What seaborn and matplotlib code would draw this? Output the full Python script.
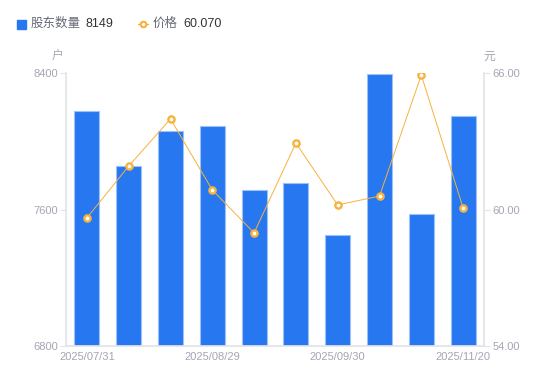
import matplotlib
matplotlib.use("Agg")
import matplotlib.pyplot as plt
import seaborn as sns
import pandas as pd
import numpy as np
from matplotlib.lines import Line2D

dates = ["2025/07/31", "2025/08/10", "2025/08/20", "2025/08/29", "2025/09/10",
         "2025/09/19", "2025/09/30", "2025/10/20", "2025/10/31", "2025/11/20"]
holders = [8177, 7855, 8060, 8089, 7714, 7755, 7451, 8394, 7574, 8149]
prices = [59.63, 61.91, 63.98, 60.86, 58.97, 62.92, 60.20, 60.59, 65.91, 60.07]
shown_labels = ["2025/07/31", "2025/08/29", "2025/09/30", "2025/11/20"]
left_ticks = [6800, 7600, 8400]
right_ticks = [54.0, 60.0, 66.0]

BLUE = "#2777f1"
ORANGE = "#f7b23b"
GREY = "#a3a6b4"
AXC = "#e3e4e8"

sns.set_theme(style="white")
plt.rcParams["font.family"] = ["Liberation Sans", "Noto Sans CJK SC", "DejaVu Sans"]

df = pd.DataFrame({"date": dates, "holders": holders, "price": prices})

fig = plt.figure(figsize=(5.5, 3.81), dpi=100)
ax = fig.add_axes([66/550, 1-346/381, (484-66)/550, (346-73)/381])
sns.barplot(data=df, x="date", y="holders", ax=ax, color=BLUE, width=0.6,
            saturation=1, edgecolor="#9cc0f8", linewidth=0.8)
ax.set_ylim(6800, 8400)
ax.set_xlim(-0.5, 9.5)
ax.set_yticks(left_ticks)
ax.set_yticklabels([str(t) for t in left_ticks])
ax.set_xticks([dates.index(d) for d in shown_labels])
ax.set_xticklabels(shown_labels)
ax.set_xlabel("")
ax.set_ylabel("")

ax2 = ax.twinx()
sns.pointplot(data=df, x="date", y="price", ax=ax2, color=ORANGE,
              markers="o", markersize=4.5, linewidth=0.7,
              markerfacecolor="white", markeredgecolor=ORANGE, markeredgewidth=1.7)
ax2.set_ylim(54, 66)
ax2.set_xlim(-0.5, 9.5)
ax2.set_yticks(right_ticks)
ax2.set_yticklabels([f"{t:.2f}" for t in right_ticks])
ax2.set_ylabel("")
ax2.set_xlabel("")

for a in (ax, ax2):
    for s in a.spines.values():
        s.set_visible(False)
    a.tick_params(colors=AXC, labelcolor=GREY, labelsize=8, length=4, width=0.8)
    a.grid(False)
ax.spines["left"].set_visible(True)
ax.spines["left"].set_color(AXC)
ax.spines["bottom"].set_visible(True)
ax.spines["bottom"].set_color(AXC)
ax2.spines["right"].set_visible(True)
ax2.spines["right"].set_color(AXC)
ax.tick_params(axis="x", length=0, pad=4)
ax.tick_params(axis="y", pad=2)
ax2.tick_params(axis="y", pad=2)

fig.text(58/550, 1-57/381, "户", color=GREY, fontsize=8.5, ha="center", va="center")
fig.text(489/550, 1-57/381, "元", color=GREY, fontsize=8.5, ha="center", va="center")

# legend
fig.patches.append(plt.Rectangle((17/550, 1-29/381), 9/550, 9/381, transform=fig.transFigure,
                                 color=BLUE, figure=fig))
fig.text(31/550, 1-24/381, "股东数量", color="#666a75", fontsize=9, va="center")
fig.text(85/550, 1-24/381, "8149", color="#333333", fontsize=9, va="center")
fig.lines.append(Line2D([138/550, 148/550], [1-24/381, 1-24/381], transform=fig.transFigure,
                        color=ORANGE, lw=1, figure=fig))
fig.lines.append(Line2D([143/550], [1-24/381], transform=fig.transFigure, color=ORANGE,
                        marker="o", markersize=4, markerfacecolor="white",
                        markeredgewidth=1.5, figure=fig))
fig.text(153/550, 1-24/381, "价格", color="#666a75", fontsize=9, va="center")
fig.text(183/550, 1-24/381, "60.070", color="#333333", fontsize=9, va="center")

fig.savefig("out.png", dpi=100)
